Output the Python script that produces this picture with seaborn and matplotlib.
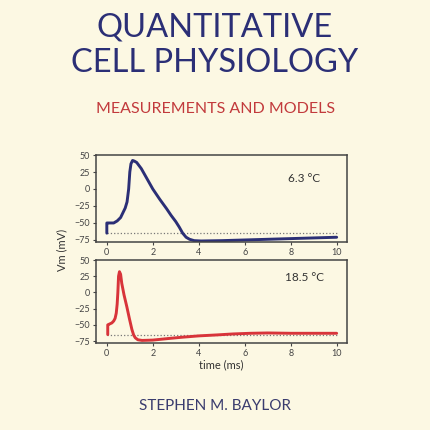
import seaborn as sns
import matplotlib.pyplot as plt

# Action potential traces
time_cold = [0, 0, 0.05, 0.3, 0.45, 0.6, 0.7, 0.8, 0.88, 0.95, 1.0, 1.05, 1.12,
             1.2, 1.3, 1.5, 2.0, 2.3, 2.6, 2.8, 3.0, 3.15, 3.3, 3.45, 3.6, 3.8,
             4.1, 5, 6, 7, 8, 9, 10]
vm_cold = [-65, -50, -50, -50, -47, -42, -35, -28, -19, 0, 25, 37, 42,
           41, 39, 30, 0, -15, -29, -39, -48, -56, -65, -71, -74, -76,
           -76.5, -76, -75, -74, -73, -72, -71]

time_warm = [0.04, 0.04, 0.1, 0.22, 0.3, 0.36, 0.41, 0.45, 0.48, 0.51, 0.55,
             0.6, 0.65, 0.75, 0.87, 0.98, 1.09, 1.17, 1.24, 1.35, 1.53, 2.0,
             2.7, 3.3, 4.0, 4.8, 5.5, 6.25, 7.0, 8.0, 9.0, 10.0]
vm_warm = [-65, -50, -49, -47, -44, -40, -32, -18, 0, 25, 32,
           28, 14, -4, -22, -40, -57, -66, -70, -73, -74, -73.5,
           -71, -69, -67, -65.5, -64, -63, -62.5, -63, -63, -63]

rest_time = [0, 10]
rest_vm = [-65, -65]

temps = ["6.3 °C", "18.5 °C"]
x_ticks = [0, 2, 4, 6, 8, 10]
y_ticks = [50, 25, 0, -25, -50, -75]

bg = "#fcf8e3"
navy = "#2b2f76"
red = "#d8343a"

sns.set_theme(style="ticks")
plt.rcParams["font.family"] = ["Lato", "DejaVu Sans"]

fig = plt.figure(figsize=(4.3, 4.3), dpi=100)
fig.patch.set_facecolor(bg)

ax1 = fig.add_axes([0.2233, 0.4372, 0.5837, 0.2023])
ax2 = fig.add_axes([0.2233, 0.2023, 0.5837, 0.1930])

traces = [(ax1, time_cold, vm_cold, navy), (ax2, time_warm, vm_warm, red)]
for (ax, t, v, c), label in zip(traces, temps):
    ax.set_facecolor(bg)
    sns.lineplot(x=rest_time, y=rest_vm, ax=ax, color="#777777",
                 linestyle=":", linewidth=0.9, sort=False, estimator=None)
    sns.lineplot(x=t, y=v, ax=ax, color=c, linewidth=2.1, sort=False,
                 estimator=None)
    ax.set_xlim(-0.47, 10.45)
    ax.set_ylim(-78, 50)
    ax.set_xticks(x_ticks)
    ax.set_yticks(y_ticks)
    ax.tick_params(labelsize=6.5, length=2.5, width=0.8, pad=2,
                   colors="#444444")
    for s in ax.spines.values():
        s.set_color("#444444")
        s.set_linewidth(1.1)
        s.set_visible(True)
    ax.set_ylabel("")
    ax.set_xlabel("")
    ax.text(8.6, 0.0, label, transform=ax.get_xaxis_transform(),
            fontsize=8.5, color="#333333", ha="center", va="baseline")

# temperature labels placed in axes fraction
ax1.texts[0].set_y(0.69)
ax2.texts[0].set_y(0.747)

ax2.set_xlabel("time (ms)", fontsize=8, color="#333333", labelpad=1)
fig.text(0.144, 0.419, "Vm (mV)", rotation=90, fontsize=8, color="#333333",
         ha="center", va="center")

# cover text
fig.text(0.5, 0.9147, "QUANTITATIVE", fontsize=23.5, color=navy,
         ha="center", va="baseline")
fig.text(0.5, 0.8333, "CELL PHYSIOLOGY", fontsize=23.5, color=navy,
         ha="center", va="baseline")
fig.text(0.5, 0.737, "MEASUREMENTS AND MODELS", fontsize=11.5, color="#c23a3c",
         ha="center", va="baseline")
fig.text(0.5, 0.0465, "STEPHEN M. BAYLOR", fontsize=11, color="#3a3c6e",
         ha="center", va="baseline")

fig.savefig("out.png", dpi=100, facecolor=bg)
